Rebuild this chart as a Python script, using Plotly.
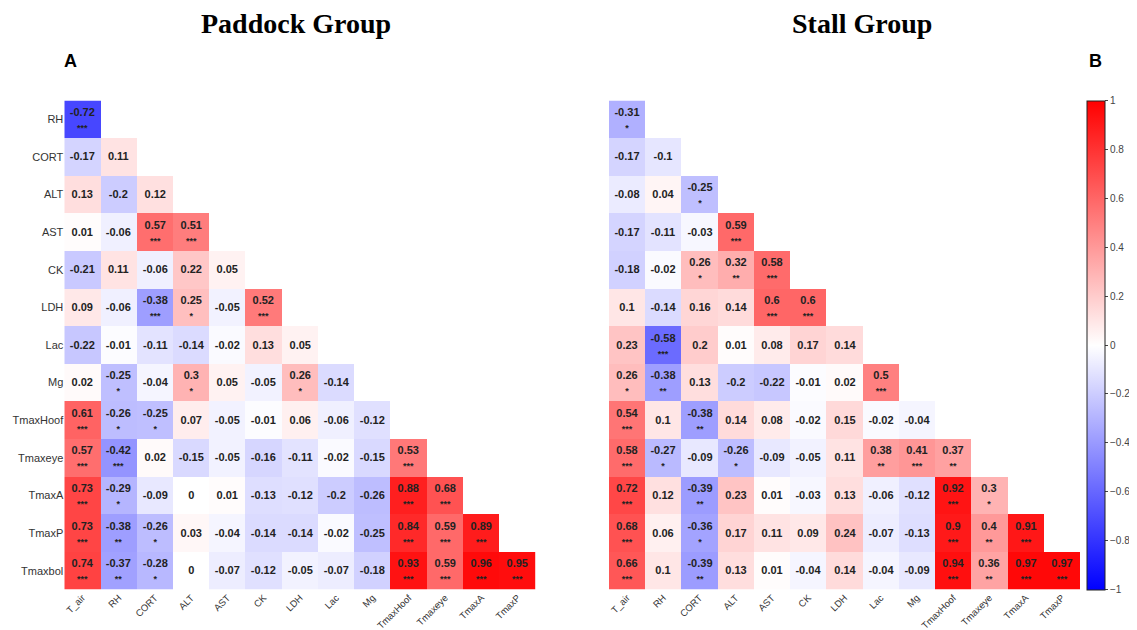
import plotly.graph_objects as go

cols = ["T_air", "RH", "CORT", "ALT", "AST", "CK", "LDH", "Lac", "Mg",
        "TmaxHoof", "Tmaxeye", "TmaxA", "TmaxP"]
rows = ["RH", "CORT", "ALT", "AST", "CK", "LDH", "Lac", "Mg",
        "TmaxHoof", "Tmaxeye", "TmaxA", "TmaxP", "Tmaxbol"]

paddock_r = [
    [-0.72],
    [-0.17, 0.11],
    [0.13, -0.2, 0.12],
    [0.01, -0.06, 0.57, 0.51],
    [-0.21, 0.11, -0.06, 0.22, 0.05],
    [0.09, -0.06, -0.38, 0.25, -0.05, 0.52],
    [-0.22, -0.01, -0.11, -0.14, -0.02, 0.13, 0.05],
    [0.02, -0.25, -0.04, 0.3, 0.05, -0.05, 0.26, -0.14],
    [0.61, -0.26, -0.25, 0.07, -0.05, -0.01, 0.06, -0.06, -0.12],
    [0.57, -0.42, 0.02, -0.15, -0.05, -0.16, -0.11, -0.02, -0.15, 0.53],
    [0.73, -0.29, -0.09, 0, 0.01, -0.13, -0.12, -0.2, -0.26, 0.88, 0.68],
    [0.73, -0.38, -0.26, 0.03, -0.04, -0.14, -0.14, -0.02, -0.25, 0.84, 0.59, 0.89],
    [0.74, -0.37, -0.28, 0, -0.07, -0.12, -0.05, -0.07, -0.18, 0.93, 0.59, 0.96, 0.95],
]
paddock_sig = [
    ["***"],
    ["", ""],
    ["", "", ""],
    ["", "", "***", "***"],
    ["", "", "", "", ""],
    ["", "", "***", "*", "", "***"],
    ["", "", "", "", "", "", ""],
    ["", "*", "", "*", "", "", "*", ""],
    ["***", "*", "*", "", "", "", "", "", ""],
    ["***", "***", "", "", "", "", "", "", "", "***"],
    ["***", "*", "", "", "", "", "", "", "", "***", "***"],
    ["***", "**", "*", "", "", "", "", "", "", "***", "***", "***"],
    ["***", "**", "*", "", "", "", "", "", "", "***", "***", "***", "***"],
]

stall_r = [
    [-0.31],
    [-0.17, -0.1],
    [-0.08, 0.04, -0.25],
    [-0.17, -0.11, -0.03, 0.59],
    [-0.18, -0.02, 0.26, 0.32, 0.58],
    [0.1, -0.14, 0.16, 0.14, 0.6, 0.6],
    [0.23, -0.58, 0.2, 0.01, 0.08, 0.17, 0.14],
    [0.26, -0.38, 0.13, -0.2, -0.22, -0.01, 0.02, 0.5],
    [0.54, 0.1, -0.38, 0.14, 0.08, -0.02, 0.15, -0.02, -0.04],
    [0.58, -0.27, -0.09, -0.26, -0.09, -0.05, 0.11, 0.38, 0.41, 0.37],
    [0.72, 0.12, -0.39, 0.23, 0.01, -0.03, 0.13, -0.06, -0.12, 0.92, 0.3],
    [0.68, 0.06, -0.36, 0.17, 0.11, 0.09, 0.24, -0.07, -0.13, 0.9, 0.4, 0.91],
    [0.66, 0.1, -0.39, 0.13, 0.01, -0.04, 0.14, -0.04, -0.09, 0.94, 0.36, 0.97, 0.97],
]
stall_sig = [
    ["*"],
    ["", ""],
    ["", "", "*"],
    ["", "", "", "***"],
    ["", "", "*", "**", "***"],
    ["", "", "", "", "***", "***"],
    ["", "***", "", "", "", "", ""],
    ["*", "**", "", "", "", "", "", "***"],
    ["***", "", "**", "", "", "", "", "", ""],
    ["***", "*", "", "*", "", "", "", "**", "***", "**"],
    ["***", "", "**", "", "", "", "", "", "", "***", "*"],
    ["***", "", "*", "", "", "", "", "", "", "***", "**", "***"],
    ["***", "", "**", "", "", "", "", "", "", "***", "**", "***", "***"],
]

colorbar_ticks = [-1, -0.8, -0.6, -0.4, -0.2, 0, 0.2, 0.4, 0.6, 0.8, 1]


def build(vals, sigs):
    n = len(cols)
    z, t = [], []
    for rv, rs in zip(vals, sigs):
        zr = list(rv) + [None] * (n - len(rv))
        tr = []
        for v, s in zip(rv, rs):
            lab = f"{v:g}"
            if s:
                tr.append(f"<b>{lab}</b><br><span style='font-size:9px'><b>{s}</b></span>")
            else:
                tr.append(f"<b>{lab}</b>")
        tr += [""] * (n - len(rv))
        z.append(zr)
        t.append(tr)
    return z, t


cscale = [[0, "rgb(0,0,255)"], [0.5, "rgb(255,255,255)"], [1, "rgb(255,0,0)"]]

zp, tp = build(paddock_r, paddock_sig)
zs, ts = build(stall_r, stall_sig)

# page body has an 8px default margin; figure is placed at (8, 8)
OFF = 8
W, H = 1137 - OFF, 630 - OFF


def px(x):
    return (x - OFF) / W


def py(y):
    return 1 - (y - OFF) / H


top, bot = 100.5, 589.5

cellfont = dict(size=11, color="#222222", family="Arial, Liberation Sans")

fig = go.Figure()
fig.add_trace(go.Heatmap(
    z=zp, x=cols, y=rows, text=tp, texttemplate="%{text}",
    textfont=cellfont,
    colorscale=cscale, zmin=-1, zmax=1, showscale=False,
    xaxis="x", yaxis="y", hoverinfo="skip"))
fig.add_trace(go.Heatmap(
    z=zs, x=cols, y=rows, text=ts, texttemplate="%{text}",
    textfont=cellfont,
    colorscale=cscale, zmin=-1, zmax=1, showscale=True,
    colorbar=dict(x=px(1087), xanchor="left", y=py(top), yanchor="top",
                  len=(bot - top) / H, lenmode="fraction", thickness=18,
                  xpad=0, ypad=0,
                  outlinewidth=1, outlinecolor="#222",
                  tickvals=colorbar_ticks, ticks="outside", ticklen=3,
                  tickcolor="#444",
                  tickfont=dict(size=10, color="#444", family="Arial, Liberation Sans")),
    xaxis="x2", yaxis="y2", hoverinfo="skip"))

yfont = dict(size=11, color="#333333", family="Arial, Liberation Sans")
xfont = dict(size=9.5, color="#333333", family="Arial, Liberation Sans")
common_x = dict(tickangle=-45, showgrid=False, zeroline=False, showline=False,
                ticks="", tickfont=xfont, fixedrange=True, automargin=False)
common_y = dict(autorange="reversed", showgrid=False, zeroline=False,
                showline=False, ticks="", tickfont=yfont, fixedrange=True,
                automargin=False)

fig.update_layout(
    width=W, height=H,
    margin=dict(l=0, r=0, t=0, b=0),
    paper_bgcolor="white", plot_bgcolor="white",
    xaxis=dict(domain=[px(64.3), px(535.7)], anchor="y", **common_x),
    yaxis=dict(domain=[py(bot), py(top)], anchor="x", **common_y),
    xaxis2=dict(domain=[px(609), px(1080)], anchor="y2", **common_x),
    yaxis2=dict(domain=[py(bot), py(top)], anchor="x2",
                showticklabels=False, **common_y),
    annotations=[
        dict(text="<b>Paddock Group</b>", x=px(296), y=py(24), xref="paper",
             yref="paper", showarrow=False, xanchor="center", yanchor="middle",
             font=dict(size=28, color="black", family="Liberation Serif, Times New Roman")),
        dict(text="<b>Stall Group</b>", x=px(862), y=py(24), xref="paper",
             yref="paper", showarrow=False, xanchor="center", yanchor="middle",
             font=dict(size=28, color="black", family="Liberation Serif, Times New Roman")),
        dict(text="<b>A</b>", x=px(70), y=py(61), xref="paper", yref="paper",
             showarrow=False, xanchor="center", yanchor="middle",
             font=dict(size=18, color="black", family="Arial, Liberation Sans")),
        dict(text="<b>B</b>", x=px(1095), y=py(61), xref="paper", yref="paper",
             showarrow=False, xanchor="center", yanchor="middle",
             font=dict(size=18, color="black", family="Arial, Liberation Sans")),
    ],
)

fig.write_html("out.html")
